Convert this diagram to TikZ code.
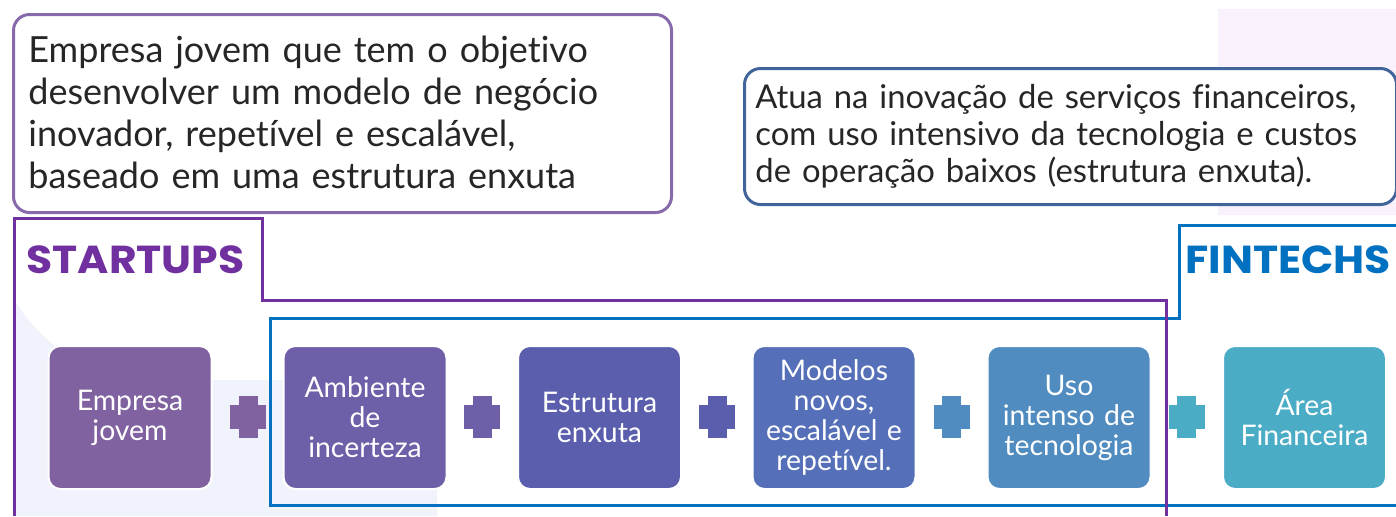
\documentclass[tikz,border=0pt]{standalone}
\usepackage{fontspec}
\setmainfont{Lato}[Ligatures={NoCommon}]
\newfontfamily\titlefont{Poppins}[FakeStretch=1.09]
\definecolor{topPurple}{RGB}{134,106,172}
\definecolor{topBlue}{RGB}{65,100,155}
\definecolor{startPurple}{RGB}{112,48,160}
\definecolor{fintBlue}{RGB}{0,112,192}
\definecolor{txtGray}{RGB}{38,38,38}
\definecolor{cA}{RGB}{128,98,160}
\definecolor{cB}{RGB}{110,95,168}
\definecolor{cC}{RGB}{90,94,173}
\definecolor{cD}{RGB}{85,112,184}
\definecolor{cE}{RGB}{80,140,192}
\definecolor{cF}{RGB}{75,172,198}
\definecolor{bgPink}{RGB}{249,241,252}
\definecolor{bgBlue}{RGB}{240,243,252}
\begin{document}
\begin{tikzpicture}[x=0.5pt,y=-0.5pt,
  textbox/.style={draw, line width=1.5pt, rounded corners=8pt, fill=white, inner sep=0pt, anchor=north west},
  bodytext/.style={anchor=base west, inner sep=0pt, text=txtGray, align=left, text width=330pt},
  stepbox/.style={rounded corners=6pt, minimum width=81.5pt, minimum height=71.5pt, text width=80pt,
    text=white, align=center, font=\fontsize{14.2}{15}\selectfont, inner sep=0pt, draw=white, line width=1pt},
  frametitle/.style={font=\titlefont\bfseries\fontsize{19.5}{22}\selectfont, inner sep=0pt},
  frameline/.style={line width=1.5pt},
  plussign/.pic={\fill (-18,-12) rectangle (18,12); \fill (-9.5,-21) rectangle (9.5,21);}
]
\useasboundingbox[fill=white] (0,0) rectangle (1396,516);
% background decorations
\fill[bgPink] (1218,9) rectangle (1396,215);
\fill[bgBlue] (14,300) .. controls (40,340) and (80,375) .. (140,380) -- (437,380) -- (437,516) -- (14,516) -- cycle;

% top text boxes
\node[textbox, draw=topPurple, minimum width=329pt, minimum height=99pt] (defStart) at (12,13) {};
\node[bodytext, font=\fontsize{18}{21}\selectfont] (txtStart) at (28,62)
  {Empresa jovem que tem o objetivo\\desenvolver um modelo de negócio\\inovador, repetível e escalável,\\baseado em uma estrutura enxuta};
\node[textbox, draw=topBlue, minimum width=326pt, minimum height=68pt] (defFint) at (743,67) {};
\node[bodytext, font=\fontsize{16.4}{18.5}\selectfont] (txtFint) at (755,108)
  {Atua na inovação de serviços financeiros,\\com uso intensivo da tecnologia e custos\\de operação baixos (estrutura enxuta).};

% frames
\coordinate (fA) at (1396,225);
\coordinate (fB) at (1179,225);
\coordinate (fC) at (1179,318);
\coordinate (fD) at (270,318);
\coordinate (fE) at (270,505);
\coordinate (fF) at (1396,505);
\draw[frameline, fintBlue] (fA) -- (fB) -- (fC) -- (fD) -- (fE) -- (fF);
\coordinate (sA) at (14,516);
\coordinate (sB) at (14,218);
\coordinate (sC) at (262,218);
\coordinate (sD) at (262,300);
\coordinate (sE) at (1166,300);
\coordinate (sF) at (1166,516);
\draw[frameline, startPurple] (sA) -- (sB) -- (sC) -- (sD) -- (sE) -- (sF);
\node[frametitle, text=startPurple] (tStart) at (135.5,260) {STARTUPS};
\node[frametitle, text=fintBlue] (tFint) at (1288,260) {FINTECHS};

% step boxes
\node[stepbox, fill=cA] (b1) at (130,417.5) {Empresa\\jovem};
\node[stepbox, fill=cB] (b2) at (365,417.5) {Ambiente\\de\\incerteza};
\node[stepbox, fill=cC] (b3) at (599.5,417.5) {Estrutura\\enxuta};
\node[stepbox, fill=cD] (b4) at (834,417.5) {Modelos\\novos,\\escalável e\\repetível.};
\node[stepbox, fill=cE] (b5) at (1069,417.5) {Uso\\intenso de\\tecnologia};
\node[stepbox, fill=cF] (b6) at (1304.5,417.5) {Área\\Financeira};

% plus signs
\pic[cA] at (248,417) {plussign};
\pic[cB] at (482,417) {plussign};
\pic[cC] at (717,417) {plussign};
\pic[cE] at (951.5,417) {plussign};
\pic[cF] at (1186.5,417) {plussign};
\end{tikzpicture}
\end{document}
